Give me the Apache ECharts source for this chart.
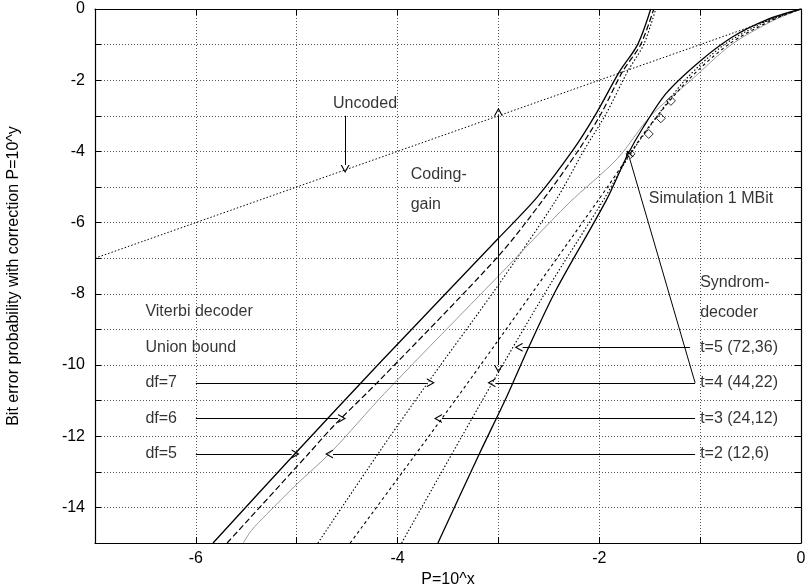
<!DOCTYPE html>
<html><head><meta charset="utf-8">
<script src="https://cdn.jsdelivr.net/npm/echarts@6/dist/echarts.min.js"></script>
<style>html,body{margin:0;padding:0;background:#fff}#c{width:806px;height:585px}</style>
</head><body><div id="c"></div>
<script>
// ---- data ----
const xTickLabels = ['-6', '-4', '-2', '0'];
const yTickLabels = ['0', '-2', '-4', '-6', '-8', '-10', '-12', '-14'];

const uncoded = [[-7, -7], [0, 0]];

// Viterbi decoder, union bound
const viterbiDf5 = [[-5.83,-15],[-5.02,-12.5],[-4.18,-9.95],[-3.00,-6.44],[-2.62,-5.30],[-2.26,-3.96],[-2.03,-2.93],[-1.80,-1.76],[-1.62,-1.0],[-1.49,0]];
const viterbiDf6 = [[-5.69,-15],[-4.885,-12.5],[-4.63,-11.7],[-4.175,-10.42],[-3.00,-6.94],[-2.56,-5.37],[-2.205,-3.96],[-1.98,-2.93],[-1.77,-1.76],[-1.59,-1.0],[-1.46,0]];
const viterbiDf7 = [[-4.79,-15],[-4.195,-12.5],[-3.70,-10.5],[-3.00,-7.75],[-2.43,-5.37],[-2.15,-3.96],[-1.93,-2.93],[-1.72,-1.76],[-1.56,-1.0],[-1.44,0]];

// Syndrome decoder
const syndromT2 = [[-5.53,-15],[-5.45,-14.65],[-5.30,-14.2],[-5.00,-13.35],[-4.66,-12.45],[-4.13,-10.8],[-3.00,-7.5],[-2.30,-5.45],[-1.82,-4.2],[-1.49,-3.0],[-1.09,-2.0],[-0.69,-1.0],[-0.28,-0.33],[0,0]];
const syndromT3 = [[-4.47,-15],[-3.56,-11.5],[-3.00,-9.3],[-2.01,-5.37],[-1.75,-4.3],[-1.52,-3.35],[-1.12,-2.0],[-0.72,-1.0],[-0.30,-0.33],[0,0]];
const syndromT4 = [[-3.96,-15],[-3.06,-10.5],[-2.50,-7.8],[-1.96,-5.37],[-1.72,-4.2],[-1.50,-3.3],[-1.15,-2.0],[-0.76,-1.0],[-0.33,-0.33],[0,0]];
const syndromT5 = [[-3.60,-15],[-3.19,-12.5],[-2.91,-10.84],[-2.70,-9.5],[-2.43,-7.9],[-1.93,-5.37],[-1.72,-4.1],[-1.57,-3.35],[-1.337,-2.37],[-1.007,-1.48],[-0.677,-0.78],[-0.347,-0.31],[0,0]];

// Simulation 1 MBit
const simulationX = [-1.69, -1.51, -1.39, -1.29];
const simulationY = [-4.07, -3.51, -3.07, -2.58];

// annotation arrows
const viterbiArrows = [[[-6.0,-10.5],[-3.71,-10.5]], [[-6.0,-11.5],[-4.59,-11.5]], [[-6.0,-12.5],[-5.05,-12.5]]];
const syndromArrows = [[[-1.10,-9.5],[-2.76,-9.5]], [[-1.05,-10.5],[-3.03,-10.5]], [[-1.05,-11.5],[-3.56,-11.5]], [[-1.05,-12.5],[-4.64,-12.5]]];
const simulationArrow = [[-1.05,-10.5],[-1.70,-4.19]];
const uncodedArrow = [[-4.52,-3.0],[-4.52,-4.38]];
const codingGainArrow = [[-3,-3],[-3,-10]];

// annotation texts
const textLabels = [
  ['Uncoded', -4.64, -2.67],
  ['Coding-\ngain', -3.87, -5.08],
  ['Simulation 1 MBit', -1.51, -5.32],
  ['Syndrom-\ndecoder', -1.0, -8.12],
  ['Viterbi decoder', -6.5, -8.5],
  ['Union bound', -6.5, -9.5],
  ['df=7', -6.5, -10.5],
  ['df=6', -6.5, -11.5],
  ['df=5', -6.5, -12.5],
  ['t=5 (72,36)', -1.0, -9.5],
  ['t=4 (44,22)', -1.0, -10.5],
  ['t=3 (24,12)', -1.0, -11.5],
  ['t=2 (12,6)', -1.0, -12.5]
];

// ---- chart ----
const FONT = '"Liberation Sans", Arial, Helvetica, sans-serif';
const chevron = 'path://M5,0L10,10L8.6,10L5,2.8L1.4,10L0,10ZM4.95,19.95L5.05,19.95L5.05,20L4.95,20Z';

function curve(data, color, width, type) {
  return {
    type: 'line', data: data, showSymbol: false, symbol: 'none',
    smooth: 0.3, clip: true,
    lineStyle: { color: color, width: width, type: type },
    z: 3, silent: true
  };
}
function arrows(list, both) {
  return {
    type: 'lines', coordinateSystem: 'cartesian2d', polyline: false,
    symbol: both ? [chevron, chevron] : ['none', chevron],
    symbolSize: [[9, 16], [9, 16]],
    lineStyle: { color: '#000', width: 1, opacity: 1, curveness: 0 },
    data: list.map(c => ({ coords: c })), z: 4, silent: true
  };
}

const axisCommon = {
  type: 'value', interval: 1,
  axisLine: { show: true, onZero: false, lineStyle: { color: '#000', width: 1.2 } },
  axisTick: { show: true, inside: true, length: 6, lineStyle: { color: '#000', width: 1 } },
  minorTick: { show: false }
};

const chart = echarts.init(document.getElementById('c'), null, { renderer: 'canvas' });
chart.setOption({
  animation: false,
  backgroundColor: '#fff',
  textStyle: { fontFamily: FONT },
  grid: { left: 95, right: 5, top: 9, bottom: 42, containLabel: false, outerBoundsMode: 'none' },
  xAxis: [
    Object.assign({}, axisCommon, {
      min: -7, max: 0, position: 'bottom',
      name: 'P=10^x', nameLocation: 'middle', nameGap: 21,
      nameTextStyle: { fontSize: 16, color: '#000', fontFamily: FONT },
      axisLabel: { show: true, margin: 8, fontSize: 16, color: '#000', fontFamily: FONT,
        formatter: v => xTickLabels.includes(String(v)) ? String(v) : '' },
      splitLine: { show: true, lineStyle: { color: '#555', width: 1, type: [1, 2] } }
    }),
    Object.assign({}, axisCommon, {
      min: -7, max: 0, position: 'top',
      axisLabel: { show: false }, splitLine: { show: false }
    })
  ],
  yAxis: [
    Object.assign({}, axisCommon, {
      min: -15, max: 0, position: 'left',
      name: 'Bit error probability with correction P=10^y', nameLocation: 'middle', nameGap: 73,
      nameTextStyle: { fontSize: 16, color: '#000', fontFamily: FONT },
      axisLabel: { show: true, margin: 10, fontSize: 16, color: '#000', fontFamily: FONT,
        formatter: v => yTickLabels.includes(String(v)) ? String(v) : '' },
      splitLine: { show: true, lineStyle: { color: '#555', width: 1, type: [1, 2] } }
    }),
    Object.assign({}, axisCommon, {
      min: -15, max: 0, position: 'right',
      axisLabel: { show: false }, splitLine: { show: false }
    })
  ],
  series: [
    curve(uncoded, '#000', 1, [1.5, 2]),
    curve(viterbiDf5, '#000', 1.3, 'solid'),
    curve(viterbiDf6, '#000', 1.2, [6, 3]),
    curve(viterbiDf7, '#000', 1.1, [1.5, 2]),
    curve(syndromT2, '#9a9a9a', 1, 'solid'),
    curve(syndromT3, '#000', 1.1, [3, 3]),
    curve(syndromT4, '#000', 1.1, [1.5, 2]),
    curve(syndromT5, '#000', 1.3, 'solid'),
    {
      type: 'scatter', symbol: 'diamond', symbolSize: 9,
      data: simulationX.map((x, i) => [x, simulationY[i]]),
      itemStyle: { color: 'rgba(0,0,0,0)', borderColor: '#000', borderWidth: 1 }, z: 5, silent: true
    },
    arrows(viterbiArrows, false),
    arrows(syndromArrows, false),
    arrows([simulationArrow], false),
    arrows([uncodedArrow], false),
    arrows([codingGainArrow], true),
    {
      type: 'scatter', symbolSize: 0, silent: true, z: 6,
      data: textLabels.map(t => ({ name: t[0], value: [t[1], t[2]] })),
      label: { show: true, position: 'right', distance: 0, formatter: '{b}',
        fontSize: 16, lineHeight: 30, color: '#000', fontFamily: FONT, align: 'left' }
    }
  ]
});
</script>
</body></html>
